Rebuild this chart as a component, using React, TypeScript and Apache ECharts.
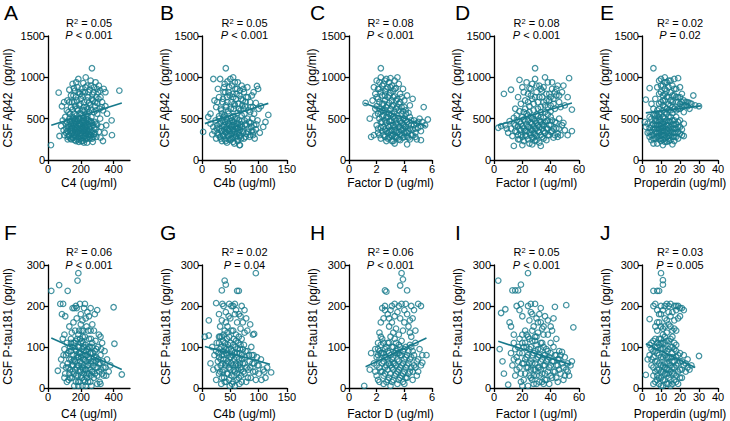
import React, { useEffect, useRef } from 'react';
import * as echarts from 'echarts';

const TEAL = '#17798b';
const FONT = 'Arial, "Liberation Sans", Helvetica, sans-serif';

// Panel letters, row-major (top row: Aβ42, bottom row: P-tau181)
const panelLetters = ['A', 'B', 'C', 'D', 'E', 'F', 'G', 'H', 'I', 'J'];

// Complement factors (x axes), one per column
const factorNames = ['C4 (ug/ml)', 'C4b (ug/ml)', 'Factor D (ug/ml)', 'Factor I (ug/ml)', 'Properdin (ug/ml)'];
const factorMax = [500, 150, 6, 60, 40];
const factorTicks = [[0, 200, 400], [0, 50, 100, 150], [0, 2, 4, 6], [0, 20, 40, 60], [0, 10, 20, 30, 40]];

// CSF markers (y axes), one per row
const markerNames = ['CSF Aβ42  (pg/ml)', 'CSF P-tau181 (pg/ml)'];
const markerMax = [1500, 300];
const markerTicks = [[0, 500, 1000, 1500], [0, 100, 200, 300]];

// Regression statistics
const r2Labels = ['0.05', '0.05', '0.08', '0.08', '0.02', '0.06', '0.02', '0.06', '0.05', '0.03'];
const pLabels = ['< 0.001', '< 0.001', '< 0.001', '< 0.001', '= 0.02', '< 0.001', '= 0.04', '< 0.001', '< 0.001', '= 0.005'];

// A: C4 vs Aβ42
const ptsA = [
  [18,180],[65,815],[435,840],[390,300],[388,480],[268,1110],[85,650],
  [70,290],[80,410],[90,480],[95,360],[100,300],[105,520],[108,440],[112,380],[115,600],[118,720],[120,280],[98,700],
  [130,850],[140,780],[150,920],[160,700],[165,840],[170,760],[175,620],[180,880],[185,980],[190,660],[195,800],[200,740],
  [205,860],[210,600],[215,930],[220,700],[225,820],[230,1000],[235,640],[240,900],[245,760],[250,690],[255,850],[260,960],
  [265,610],[270,790],[275,720],[280,880],[285,650],[290,940],[295,760],[300,690],[305,820],[310,900],[315,620],[320,760],
  [330,700],[340,860],[350,650],[300,560],[280,580],[160,560],[140,640],[130,700],[125,580],[150,610],[250,580],[230,550],
  [350,820],[360,560],[335,600],
  [110,330],[115,460],[120,250],[125,400],[128,300],[130,500],[135,350],[138,260],[140,430],[142,320],[145,480],[148,390],
  [150,270],[152,350],[155,450],[158,300],[160,410],[162,240],[165,360],[168,500],[170,290],[172,430],[175,380],[178,250],
  [180,470],[182,330],[185,410],[188,220],[190,360],[192,500],[195,290],[198,440],[200,380],[202,260],[205,330],[208,470],
  [210,400],[212,230],[215,350],[218,510],[220,290],[222,420],[225,370],[228,250],[230,450],[232,320],[235,400],[238,210],
  [240,490],[245,350],[248,280],[250,430],[255,380],[258,300],[262,470],[265,340],[270,260],[275,420],[280,310],[285,460],
  [290,370],[295,280],[300,430],[310,340],[318,500],[325,400],[335,230],[345,330],[355,420],[320,270],[150,520],[175,540],
  [195,560],[215,540],[240,530],[265,520],
  [118,350],[122,420],[127,290],[133,470],[137,380],[141,250],[146,410],[149,330],[153,500],[157,270],[161,440],[164,310],
  [167,390],[171,230],[174,460],[177,340],[181,280],[184,500],[187,370],[189,250],[193,430],[196,320],[199,480],[203,230],
  [206,390],[209,300],[211,450],[214,270],[217,380],[219,210],[221,470],[224,330],[227,410],[229,290],[233,500],[236,360],
  [239,260],[242,420],[246,310],[249,480],[253,340],[256,260],[259,410],[263,300],[267,450],[272,350],[277,280],[282,390],
  [287,320],[293,440],[135,560],[145,700],[155,780],[165,650],[178,720],[188,820],[198,680],[208,780],[218,640],[228,880],
  [238,720],[248,820],[258,660],[268,740],[278,820],[288,700],[298,860],[308,740],[318,840],[328,640],[158,870],[172,940],
  [212,820],[242,620],[262,900],[292,600],[203,560],[183,600],[223,600],[163,480],[213,480],[143,370],[233,270],[253,460],
  [273,220],[170,330],[190,440],[210,360],[230,390],[250,320]
];
// B: C4b vs Aβ42
const ptsB = [
  [2,340],[11,520],[117,545],[42,1110],[97,895],[99,860],[67,180],[20,980],[15,560],
  [22,720],[25,640],[28,860],[30,760],[32,980],[34,600],[36,700],[38,820],[40,920],[42,660],[44,760],[46,590],[48,880],
  [50,980],[52,700],[54,800],[56,620],[58,940],[60,740],[62,860],[64,680],[66,780],[68,600],[70,900],[72,720],[74,820],
  [76,650],[78,760],[80,880],[82,600],[85,700],[88,780],[90,640],[92,560],[95,690],[100,620],[104,650],[55,1000],[47,820],
  [63,570],[35,560],[58,660],[73,620],[45,950],[27,700],
  [15,440],[18,310],[20,400],[22,350],[24,480],[25,260],[27,420],[28,330],[30,500],[31,380],[32,280],[33,450],[34,350],
  [35,230],[36,410],[37,300],[38,520],[39,370],[40,250],[41,460],[42,330],[43,400],[44,210],[45,480],[46,360],[47,290],
  [48,430],[49,380],[50,240],[51,510],[52,320],[53,420],[54,270],[55,370],[56,460],[57,200],[58,340],[59,410],[60,290],
  [61,500],[62,380],[63,250],[64,440],[65,330],[66,180],[67,400],[68,290],[70,470],[72,350],[74,260],[76,430],[78,320],
  [80,500],[82,380],[84,280],[86,450],[88,350],[90,300],[92,420],[95,370],[98,480],[102,330],[108,400],[112,460],[40,540],
  [55,530],[70,540],[30,530],
  [26,380],[29,300],[31,440],[33,260],[35,350],[36,480],[38,290],[39,420],[41,340],[42,230],[43,500],[44,380],[45,300],
  [46,440],[47,250],[48,350],[49,470],[50,310],[51,400],[52,260],[53,480],[54,350],[55,220],[56,420],[57,310],[58,500],
  [59,270],[60,380],[61,440],[62,320],[63,230],[64,390],[65,480],[66,300],[67,360],[68,430],[69,260],[71,400],[73,330],
  [75,480],[77,280],[79,420],[81,340],[83,460],[85,300],[87,400],[89,500],[91,340],[93,260],[96,430],[33,620],[37,740],
  [41,820],[45,700],[49,780],[53,900],[57,680],[61,800],[65,620],[69,740],[73,860],[77,700],[81,760],[86,640],[91,820],
  [39,880],[51,620],[63,940],[71,660],[59,860],[43,640],[55,760],[67,840],[47,560],[75,560],[85,580]
];
// C: Factor D vs Aβ42
const ptsC = [
  [1.2,690],[1.5,500],[2.3,1110],[5.4,640],[5.7,490],[4.2,190],[3.3,200],[1.6,280],[1.8,300],[4.9,250],[5.2,240],
  [1.7,720],[1.8,880],[1.9,800],[2.0,650],[2.0,960],[2.1,740],[2.2,860],[2.2,620],[2.3,1000],[2.4,780],[2.4,680],[2.5,920],
  [2.5,600],[2.6,830],[2.6,720],[2.7,980],[2.7,640],[2.8,880],[2.8,760],[2.9,690],[2.9,940],[3.0,810],[3.0,620],[3.1,900],
  [3.1,720],[3.2,840],[3.2,660],[3.3,960],[3.3,770],[3.4,870],[3.4,620],[3.5,740],[3.6,920],[3.6,680],[3.7,800],[3.8,640],
  [3.9,860],[4.0,720],[4.1,600],[4.2,780],[4.4,660],[4.6,740],[3.5,1000],[2.1,560],[2.3,580],
  [2.0,420],[2.1,330],[2.2,500],[2.3,260],[2.3,390],[2.4,460],[2.5,300],[2.5,540],[2.6,370],[2.7,230],[2.7,450],[2.8,330],
  [2.8,520],[2.9,400],[2.9,270],[3.0,470],[3.0,350],[3.1,560],[3.1,290],[3.2,420],[3.2,230],[3.3,500],[3.3,360],[3.4,280],
  [3.4,440],[3.5,330],[3.5,540],[3.6,250],[3.6,400],[3.7,470],[3.7,310],[3.8,360],[3.8,560],[3.9,270],[3.9,430],[4.0,330],
  [4.0,500],[4.1,400],[4.2,280],[4.2,460],[4.3,350],[4.4,520],[4.5,300],[4.5,420],[4.6,370],[4.7,480],[4.8,330],[4.9,440],
  [5.0,390],[5.1,500],[5.2,350],[5.3,460],[5.5,420],[4.4,250],[4.8,280],[3.1,230],[2.6,600],[3.9,590],[4.3,570],[2.4,350],
  [1.9,540],
  [2.1,380],[2.2,300],[2.3,460],[2.4,530],[2.5,400],[2.6,280],[2.6,480],[2.7,350],[2.7,520],[2.8,410],[2.8,260],[2.9,470],
  [2.9,340],[3.0,300],[3.0,540],[3.0,420],[3.1,360],[3.1,480],[3.2,310],[3.2,520],[3.3,400],[3.3,280],[3.4,480],[3.4,350],
  [3.5,430],[3.5,270],[3.6,500],[3.6,340],[3.7,400],[3.7,240],[3.8,450],[3.8,300],[3.9,380],[3.9,500],[4.0,280],[4.0,420],
  [4.1,350],[4.1,480],[4.2,330],[4.3,430],[4.3,270],[4.4,380],[4.5,480],[4.6,300],[4.7,420],[4.8,380],[5.0,460],[5.2,410],
  [1.9,620],[2.0,760],[2.1,860],[2.2,700],[2.3,820],[2.4,900],[2.5,680],[2.6,780],[2.7,860],[2.8,660],[2.9,780],[3.0,880],
  [3.1,650],[3.2,760],[3.3,860],[3.4,720],[3.5,640],[3.7,700],[3.8,760],[4.0,640],[2.2,940],[2.6,960],[3.0,990],[2.4,600],
  [3.6,600],[2.9,560],[3.3,580],[4.1,560]
];
// D: Factor I vs Aβ42
const ptsD = [
  [3,390],[7,800],[12,850],[53,990],[55,350],[52,300],[29,1110],[5,410],[9,380],[14,170],[45,280],
  [15,620],[17,760],[18,970],[19,680],[20,880],[21,580],[22,720],[23,940],[24,800],[25,650],[26,860],[27,740],[28,600],
  [29,980],[30,820],[31,700],[32,900],[33,640],[34,760],[35,880],[36,580],[37,720],[38,940],[39,800],[40,660],[41,860],
  [42,740],[43,620],[44,780],[45,900],[46,700],[48,820],[50,660],[52,760],[55,610],[25,580],[33,580],[40,590],[18,590],
  [36,1000],
  [8,420],[10,330],[11,470],[12,380],[13,290],[14,510],[15,420],[16,340],[17,250],[18,460],[18,370],[19,300],[20,520],
  [20,410],[21,230],[22,350],[22,470],[23,290],[24,400],[24,540],[25,330],[25,200],[26,450],[26,370],[27,270],[27,500],
  [28,410],[28,320],[29,230],[29,470],[30,380],[30,290],[31,530],[31,420],[32,340],[32,210],[33,460],[34,380],[34,280],
  [35,510],[35,420],[36,330],[37,240],[37,470],[38,380],[39,300],[40,520],[40,420],[41,350],[42,270],[43,460],[44,380],
  [45,320],[46,500],[48,420],[50,360],[30,550],[23,560],[16,540],[38,550],[20,180],[27,190],[33,170],
  [14,440],[15,350],[16,480],[17,300],[17,410],[18,250],[19,440],[19,360],[20,280],[21,490],[21,380],[22,300],[23,430],
  [23,350],[24,250],[24,480],[25,400],[26,300],[26,520],[27,360],[27,440],[28,270],[28,490],[29,380],[29,310],[30,450],
  [30,240],[31,350],[32,480],[32,400],[33,300],[33,520],[34,430],[35,350],[35,260],[36,460],[37,380],[38,300],[38,480],
  [39,420],[40,340],[41,480],[42,380],[43,300],[44,450],[46,380],[47,300],[49,450],[22,620],[24,700],[26,780],[28,680],
  [30,900],[31,620],[32,760],[34,840],[35,700],[37,800],[38,640],[40,760],[41,940],[42,680],[44,860],[46,780],[47,640],
  [49,900],[21,820],[27,920],[33,860],[39,720],[43,820],[29,760],[25,870],[36,660]
];
// E: Properdin vs Aβ42
const ptsE = [
  [6,1110],[2,730],[4,870],[30,650],[27,780],[25,620],[1.5,460],[2,400],[24,700],[22,580],[28,660],
  [7,740],[8,880],[9,960],[9,680],[10,820],[10,980],[11,720],[11,900],[12,640],[12,860],[13,760],[13,940],[14,680],
  [14,600],[15,820],[15,720],[16,900],[16,640],[17,780],[17,980],[18,700],[18,860],[19,620],[19,760],[20,880],[20,680],
  [21,800],[21,640],[22,720],[23,660],[6,620],[8,600],[11,600],[15,960],[18,600],[5,680],[12,1000],[19,990],[24,650],
  [26,680],
  [3,330],[3,440],[4,280],[4,390],[5,500],[5,340],[5,240],[6,430],[6,300],[6,540],[7,380],[7,260],[7,470],[8,330],
  [8,420],[8,200],[8,540],[9,370],[9,290],[9,480],[10,230],[10,410],[10,340],[10,560],[11,300],[11,460],[11,180],[11,390],
  [12,350],[12,500],[12,260],[13,420],[13,330],[13,220],[13,560],[14,380],[14,470],[14,290],[15,350],[15,520],[15,240],
  [16,430],[16,330],[16,190],[17,480],[17,380],[17,280],[18,430],[18,330],[18,520],[19,260],[19,400],[20,320],[20,480],
  [21,370],[22,290],[22,440],[12,580],[9,560],[16,570],[4,520],[6,200],[10,480],[14,230],[7,540],
  [4,340],[5,420],[5,300],[6,380],[6,260],[7,340],[7,500],[7,420],[8,280],[8,380],[8,470],[9,250],[9,330],[9,420],
  [9,520],[10,300],[10,380],[10,440],[10,260],[11,350],[11,430],[11,520],[11,250],[12,300],[12,400],[12,460],[12,220],
  [13,370],[13,280],[13,480],[14,330],[14,420],[14,260],[14,520],[15,300],[15,400],[15,460],[16,280],[16,380],[16,480],
  [17,330],[17,430],[17,230],[18,380],[18,280],[19,340],[19,460],[20,400],[21,300],[9,620],[10,700],[10,900],[11,660],
  [11,780],[12,720],[12,940],[13,620],[13,840],[14,760],[14,880],[15,660],[16,780],[16,700],[17,620],[17,860],[18,760],
  [19,700],[20,620],[20,760],[9,800],[15,600],[12,800],[14,960],[21,700],[22,660],[23,700],[25,690]
];
// F: C4 vs P-tau181
const ptsF = [
  [20,237],[68,251],[75,205],[92,205],[85,180],[105,175],[180,262],[185,280],[120,237],[400,197],[405,108],[450,33],[60,42],
  [150,195],[160,195],[170,200],[175,195],[195,205],[200,180],[210,165],[220,195],[225,205],[240,185],[250,175],[260,195],
  [270,155],[285,180],[300,190],[310,130],[130,150],[145,135],[175,170],[190,140],[215,140],[235,150],[260,140],[320,125],
  [155,160],[100,130],[330,110],[90,120],
  [80,70],[90,55],[100,95],[105,35],[110,80],[115,110],[120,60],[125,20],[130,90],[135,45],[140,120],[142,70],[145,25],
  [150,100],[152,55],[155,80],[160,35],[162,110],[165,65],[170,15],[172,90],[175,50],[178,120],[180,75],[182,30],[185,100],
  [188,55],[190,85],[192,15],[195,65],[198,40],[200,110],[202,75],[205,25],[208,95],[210,50],[212,125],[215,70],[218,35],
  [220,90],[222,55],[225,15],[228,80],[230,105],[232,45],[235,65],[238,25],[240,95],[245,55],[248,75],[250,35],[255,100],
  [258,15],[260,60],[265,85],[268,40],[270,110],[275,65],[280,25],[285,90],[290,50],[295,75],[300,30],[305,100],[310,60],
  [315,15],[320,80],[325,45],[335,65],[340,30],[345,90],[350,50],[360,70],[370,40],[380,55],[115,15],[135,100],[195,120],
  [250,120],[290,115],[160,5],[210,5],[265,5],[130,35],
  [120,85],[125,50],[130,70],[135,25],[140,90],[145,55],[150,40],[155,110],[160,70],[165,45],[168,95],[172,30],[176,80],
  [180,55],[184,15],[187,75],[191,100],[194,45],[197,85],[201,30],[204,60],[207,115],[211,80],[214,45],[217,100],[221,20],
  [224,70],[227,45],[231,90],[234,30],[237,80],[241,55],[244,15],[247,100],[251,70],[254,45],[257,85],[261,30],[264,65],
  [267,100],[271,40],[274,85],[278,55],[282,75],[286,35],[291,65],[296,95],[301,50],[306,70],[312,40],[318,60],[324,95],
  [330,35],[338,50],[355,30],[185,130],[205,140],[225,125],[245,140],[165,140],[280,140],[230,170],[200,155],[140,110],
  [110,50],[100,25],[95,80],[300,10],[320,10],[230,5],[185,5],[170,115],[262,120],[150,65],[240,35],[215,110]
];
// G: C4b vs P-tau181
const ptsG = [
  [95,280],[40,262],[42,252],[35,238],[62,237],[65,237],[12,165],[5,125],[12,128],[122,38],[90,130],[92,132],[25,207],
  [30,180],[35,165],[38,200],[42,185],[45,150],[48,205],[50,170],[52,200],[55,140],[58,205],[60,190],[62,160],[65,180],
  [68,145],[70,200],[72,160],[75,190],[78,170],[80,140],[40,140],[32,150],[55,200],[85,155],
  [15,60],[18,100],[20,45],[22,80],[25,20],[26,110],[28,65],[30,35],[31,95],[32,125],[33,55],[34,10],[35,80],[36,40],
  [37,115],[38,70],[39,25],[40,100],[41,55],[42,85],[43,15],[44,120],[45,65],[46,35],[47,95],[48,50],[49,5],[50,110],
  [51,75],[52,30],[53,90],[54,55],[55,15],[56,120],[57,70],[58,40],[59,100],[60,60],[61,20],[62,85],[63,45],[64,110],
  [65,70],[66,10],[67,95],[68,50],[69,30],[70,80],[72,60],[74,105],[75,35],[76,75],[78,15],[80,90],[82,45],[84,65],
  [86,25],[88,80],[90,40],[92,60],[95,20],[98,55],[100,35],[104,70],[108,45],[112,25],[35,125],[48,125],[58,5],[70,120],
  [25,90],[30,75],
  [27,50],[29,85],[30,110],[32,40],[33,70],[34,100],[35,25],[36,60],[37,90],[38,45],[39,80],[40,15],[41,110],[42,60],
  [43,95],[44,35],[45,80],[46,105],[47,60],[48,20],[49,75],[50,45],[51,95],[52,60],[53,10],[54,80],[55,105],[56,45],
  [57,30],[58,85],[59,55],[60,115],[61,75],[62,35],[63,95],[64,55],[65,25],[66,85],[67,60],[68,105],[69,45],[70,15],
  [71,70],[72,95],[73,40],[75,60],[77,90],[79,50],[81,25],[83,80],[85,50],[87,100],[89,60],[91,80],[94,40],[97,75],
  [100,55],[105,20],[110,40],[115,50],[45,135],[52,140],[60,130],[38,130],[65,125],[30,125],[75,135],[42,160],[58,180],
  [68,175],[47,175],[36,205]
];
// H: Factor D vs P-tau181
const ptsH = [
  [1.1,5],[3.8,280],[3.9,265],[3.7,250],[2.6,238],[2.7,235],[4.2,238],[5.3,62],[5.6,80],[1.5,45],[1.6,85],
  [2.4,195],[2.5,170],[2.6,200],[2.8,180],[3.0,190],[3.1,160],[3.3,205],[3.4,145],[3.5,185],[3.7,170],[3.8,205],[3.9,140],
  [4.0,160],[4.1,205],[4.2,180],[4.3,150],[4.5,200],[4.6,170],[4.8,140],[5.0,205],[5.2,200],[3.2,135],[2.9,150],[4.4,135],
  [2.2,135],[3.6,130],
  [1.8,60],[1.9,95],[2.0,30],[2.0,75],[2.1,110],[2.2,50],[2.2,15],[2.3,85],[2.4,40],[2.4,120],[2.5,65],[2.5,10],[2.6,95],
  [2.6,35],[2.7,75],[2.7,55],[2.8,20],[2.8,110],[2.9,60],[2.9,85],[3.0,35],[3.0,5],[3.1,100],[3.1,50],[3.2,75],[3.2,20],
  [3.3,120],[3.3,60],[3.4,90],[3.4,35],[3.5,10],[3.5,70],[3.6,105],[3.6,45],[3.7,80],[3.7,25],[3.8,115],[3.8,55],[3.9,90],
  [3.9,35],[4.0,70],[4.0,10],[4.1,100],[4.1,50],[4.2,80],[4.2,25],[4.3,60],[4.4,105],[4.4,40],[4.5,75],[4.6,20],[4.6,90],
  [4.7,55],[4.8,110],[4.9,65],[5.0,40],[5.1,95],[5.3,80],[2.3,125],[3.0,125],[4.5,125],[2.1,80],[3.5,95],
  [1.9,40],[2.0,55],[2.1,20],[2.1,95],[2.2,70],[2.3,40],[2.3,105],[2.4,60],[2.4,85],[2.5,30],[2.5,110],[2.6,50],[2.6,75],
  [2.7,15],[2.7,100],[2.8,45],[2.8,70],[2.9,25],[2.9,110],[3.0,55],[3.0,80],[3.1,15],[3.1,70],[3.2,45],[3.2,100],[3.3,30],
  [3.3,85],[3.4,55],[3.4,110],[3.5,40],[3.5,85],[3.6,20],[3.6,65],[3.7,50],[3.7,100],[3.8,30],[3.8,80],[3.9,60],[3.9,15],
  [4.0,95],[4.0,40],[4.1,75],[4.1,25],[4.2,55],[4.3,90],[4.3,35],[4.4,70],[4.5,50],[4.5,100],[4.6,40],[4.7,80],[4.8,50],
  [4.9,30],[5.0,70],[5.2,55],[2.2,90],[2.5,85],[2.8,90],[3.2,60],[3.6,85],[2.9,170],[3.3,175],[3.6,200],[4.0,190],
  [4.4,165],[2.6,190],[3.1,200],[4.7,190],[2.3,160]
];
// I: Factor I vs P-tau181
const ptsI = [
  [3,262],[5,183],[8,192],[13,238],[15,238],[17,238],[19,252],[24,280],[43,198],[51,202],[56,148],[12,150],[11,160],
  [4,95],[6,65],[7,35],[10,8],
  [16,200],[18,190],[19,205],[20,175],[22,140],[24,200],[25,165],[26,205],[27,180],[28,150],[29,205],[30,170],[31,135],
  [32,180],[33,160],[34,145],[35,130],[36,175],[38,130],[40,150],[42,170],[44,120],[20,130],[14,130],[24,125],[30,125],
  [46,90],[48,88],
  [12,85],[13,55],[14,110],[15,30],[16,75],[17,100],[18,50],[19,15],[20,85],[21,60],[22,35],[22,110],[23,75],[24,5],
  [24,50],[25,95],[26,65],[26,25],[27,115],[27,80],[28,45],[28,10],[29,90],[29,60],[30,30],[30,105],[31,75],[32,50],
  [32,15],[33,95],[33,65],[34,35],[34,110],[35,80],[36,55],[36,20],[37,95],[38,70],[38,40],[39,10],[40,85],[40,55],
  [41,25],[42,100],[42,65],[43,40],[44,80],[45,15],[45,55],[46,70],[47,35],[48,60],[49,20],[50,75],[51,45],[52,60],
  [54,55],[55,65],[53,30],[18,120],[25,120],[35,10],[20,5],
  [14,70],[15,95],[16,45],[17,65],[18,85],[19,35],[20,60],[21,100],[21,20],[22,70],[23,50],[23,100],[24,80],[25,30],
  [25,60],[26,100],[26,45],[27,20],[27,60],[28,85],[28,30],[29,115],[29,45],[30,70],[30,10],[31,50],[31,95],[32,80],
  [32,30],[33,110],[33,45],[34,70],[34,15],[35,100],[35,55],[36,80],[36,35],[37,65],[37,20],[38,90],[39,50],[39,75],
  [40,30],[40,110],[41,65],[42,40],[43,80],[44,55],[44,25],[45,70],[46,45],[47,80],[49,50],[50,30],[52,40],[20,110],
  [23,130],[27,140],[31,160],[35,150],[26,185],[33,195],[38,165],[29,125],[41,140]
];
// J: Properdin vs P-tau181
const ptsJ = [
  [2,32],[10,280],[11,263],[11,252],[6,237],[8,237],[9,237],[4,168],[30,78],[25,45],[3,70],[4,105],
  [6,200],[7,205],[8,190],[9,160],[10,200],[10,180],[11,145],[12,200],[12,170],[13,205],[14,185],[14,155],[15,205],
  [15,175],[16,140],[17,200],[17,165],[18,190],[19,200],[20,195],[20,175],[13,135],[18,140],[8,140],[11,130],[16,125],
  [22,190],
  [4,80],[5,55],[5,110],[6,30],[6,90],[7,65],[7,15],[7,120],[8,45],[8,85],[9,25],[9,105],[9,60],[10,5],[10,75],[10,40],
  [10,120],[11,95],[11,55],[11,20],[12,80],[12,35],[12,110],[13,60],[13,10],[13,90],[14,45],[14,75],[14,25],[15,100],
  [15,55],[15,5],[16,85],[16,35],[16,65],[17,20],[17,95],[17,50],[18,75],[18,30],[19,60],[19,10],[20,45],[20,85],
  [21,25],[21,65],[22,55],[23,40],[24,70],[26,55],[12,125],[14,115],[8,110],[6,10],[18,105],
  [5,70],[5,95],[6,50],[6,75],[6,115],[7,40],[7,90],[7,100],[8,20],[8,65],[8,100],[8,30],[9,45],[9,80],[9,120],[9,10],
  [10,55],[10,95],[10,25],[10,110],[11,40],[11,75],[11,110],[11,5],[12,20],[12,60],[12,95],[12,50],[13,35],[13,75],
  [13,115],[13,45],[14,10],[14,60],[14,95],[14,35],[15,20],[15,75],[15,120],[15,40],[16,10],[16,50],[16,100],[16,75],
  [17,35],[17,65],[17,110],[18,15],[18,55],[18,90],[19,40],[19,80],[20,25],[20,65],[21,45],[22,80],[23,60],[24,50],
  [7,150],[9,180],[10,150],[12,150],[13,165],[15,150],[16,185],[17,145],[19,170],[14,200],[11,190],[8,160],[18,200],
  [21,195]
];

// Linear regression lines (endpoints in data units)
const fitA = [[20, 420], [450, 690]];
const fitB = [[5, 440], [117, 685]];
const fitC = [[1.1, 690], [5.6, 405]];
const fitD = [[3, 420], [55, 690]];
const fitE = [[2, 570], [31, 655]];
const fitF = [[20, 122], [450, 45]];
const fitG = [[5, 101], [120, 58]];
const fitH = [[1.2, 52], [5.6, 122]];
const fitI = [[3, 114], [54, 57]];
const fitJ = [[2, 108], [28, 50]];

const allPoints = [ptsA, ptsB, ptsC, ptsD, ptsE, ptsF, ptsG, ptsH, ptsI, ptsJ];
const allFits = [fitA, fitB, fitC, fitD, fitE, fitF, fitG, fitH, fitI, fitJ];

// Layout (pixels)
const COLS = [
  { left: 48, width: 82, nameGap: 34, letterX: 4 },
  { left: 202, width: 85, nameGap: 30, letterX: 160 },
  { left: 349, width: 83, nameGap: 30, letterX: 310 },
  { left: 494, width: 85, nameGap: 30, letterX: 455 },
  { left: 642, width: 76, nameGap: 30, letterX: 600 },
];
const ROWS = [
  { top: 36, height: 124, xNameGap: 17, letterY: 12.5, r2Y: 23, pY: 35 },
  { top: 265, height: 123, xNameGap: 20, letterY: 232, r2Y: 252, pY: 265 },
];

function buildOption() {
  const grid: any[] = [];
  const xAxis: any[] = [];
  const yAxis: any[] = [];
  const series: any[] = [];
  const graphic: any[] = [];
  const axisLine = { show: true, onZero: false, lineStyle: { color: '#000', width: 1.3 } };
  const labelStyle = { color: '#000', fontSize: 11, fontFamily: FONT, formatter: (v: number) => String(v) };

  for (let i = 0; i < 10; i++) {
    const row = Math.floor(i / 5);
    const col = i % 5;
    const C = COLS[col];
    const R = ROWS[row];
    grid.push({ left: C.left, top: R.top, width: C.width, height: R.height });
    xAxis.push({
      gridIndex: i, type: 'value', min: 0, max: factorMax[col],
      name: factorNames[col], nameLocation: 'middle', nameGap: R.xNameGap,
      nameTextStyle: { color: '#000', fontSize: 12, fontFamily: FONT },
      axisLine,
      axisTick: { show: true, length: 4, lineStyle: { color: '#000', width: 1.3 }, customValues: factorTicks[col] },
      axisLabel: { ...labelStyle, margin: 3, customValues: factorTicks[col] },
      splitLine: { show: false },
    });
    yAxis.push({
      gridIndex: i, type: 'value', min: 0, max: markerMax[row],
      name: markerNames[row], nameLocation: 'middle', nameGap: C.nameGap, nameRotate: 90,
      nameTextStyle: { color: '#000', fontSize: 12, fontFamily: FONT },
      axisLine,
      axisTick: { show: true, length: 4, lineStyle: { color: '#000', width: 1.3 }, customValues: markerTicks[row] },
      axisLabel: { ...labelStyle, margin: 3, customValues: markerTicks[row] },
      splitLine: { show: false },
    });
    series.push({
      type: 'scatter', xAxisIndex: i, yAxisIndex: i, data: allPoints[i],
      symbol: 'circle', symbolSize: 5.5, silent: true,
      itemStyle: { color: 'rgba(0,0,0,0)', borderColor: TEAL, borderWidth: 1.25 },
    });
    series.push({
      type: 'line', xAxisIndex: i, yAxisIndex: i, data: allFits[i],
      symbol: 'none', silent: true, z: 5,
      lineStyle: { color: TEAL, width: 1.6 },
    });

    const cx = C.left + C.width / 2;
    graphic.push({
      type: 'text', x: C.letterX, y: R.letterY,
      style: { text: panelLetters[i], fontSize: 21, fontFamily: FONT, fill: '#000', verticalAlign: 'middle' },
    });
    graphic.push({
      type: 'text', x: cx, y: R.r2Y,
      style: {
        text: `R{sup|2} = ${r2Labels[i]}`, fontSize: 11, fontFamily: FONT, fill: '#000',
        align: 'center', verticalAlign: 'middle',
        rich: { sup: { fontSize: 7.5, verticalAlign: 'top', fontFamily: FONT, fill: '#000' } },
      },
    });
    graphic.push({
      type: 'text', x: cx, y: R.pY,
      style: {
        text: `{it|P} ${pLabels[i]}`, fontSize: 11, fontFamily: FONT, fill: '#000',
        align: 'center', verticalAlign: 'middle',
        rich: { it: { fontStyle: 'italic', fontSize: 11, fontFamily: FONT, fill: '#000' } },
      },
    });
  }

  return { animation: false, backgroundColor: '#fff', grid, xAxis, yAxis, series, graphic };
}

export default function App() {
  const ref = useRef<HTMLDivElement>(null);
  useEffect(() => {
    if (!ref.current) return;
    const chart = echarts.init(ref.current, null, { renderer: 'svg' });
    chart.setOption(buildOption());
    return () => chart.dispose();
  }, []);
  return <div ref={ref} style={{ position: 'fixed', left: 0, top: 0, width: 730, height: 421 }} />;
}
